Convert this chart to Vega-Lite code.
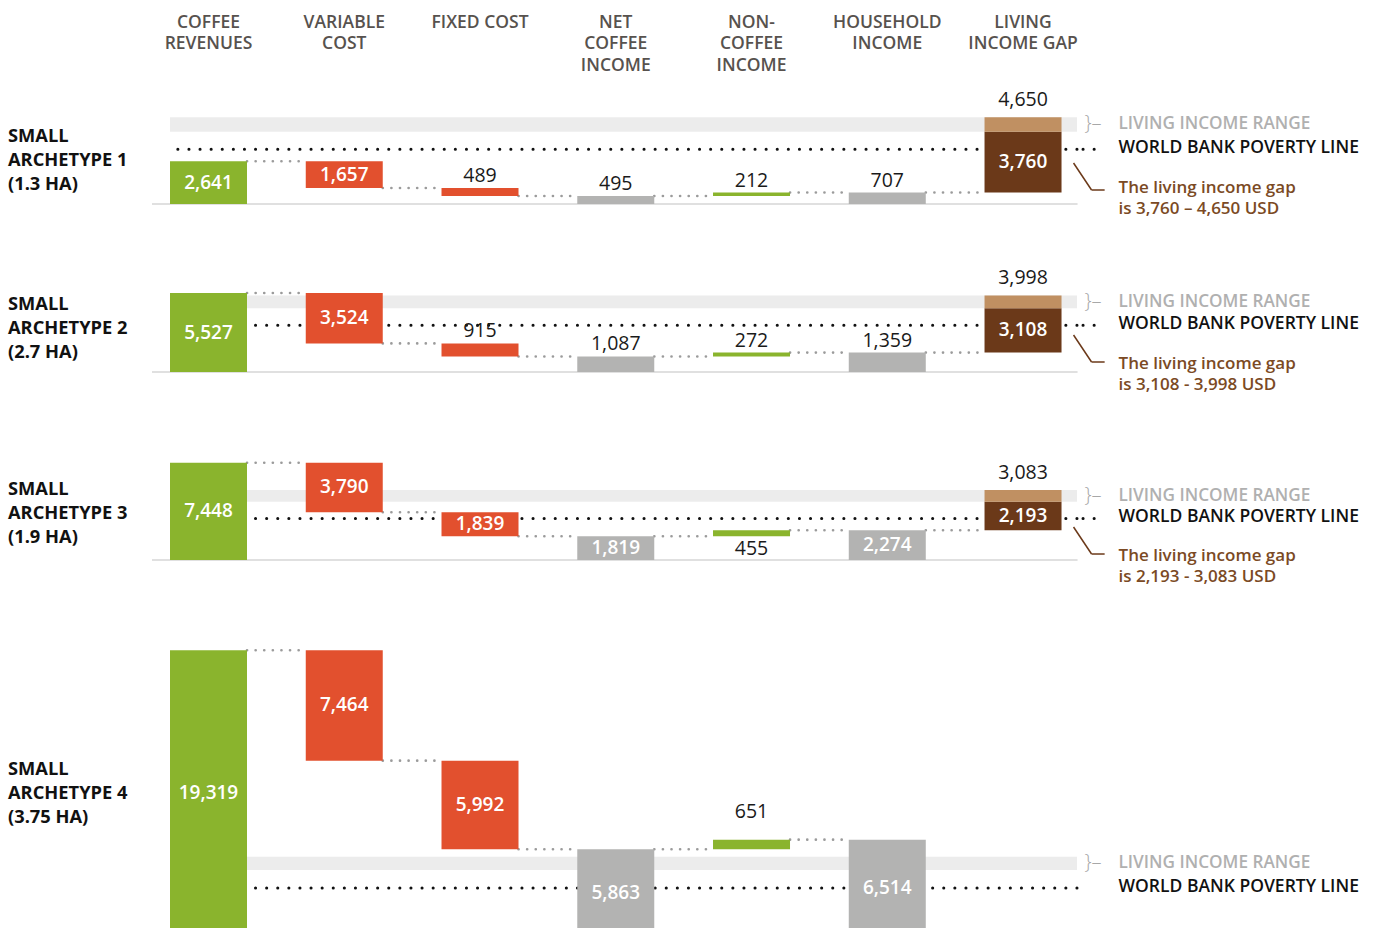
{
  "$schema": "https://vega.github.io/schema/vega-lite/v6.json",
  "background": "white",
  "padding": {"left": 7, "top": 13, "right": 5, "bottom": 0},
  "config": {"view": {"stroke": null}, "font": "Open Sans", "axis": {"disable": true}},
  "spacing": 0,
  "bounds": "flush",
  "resolve": {"scale": {"x": "independent", "y": "independent", "color": "independent"}},
  "datasets": {
    "cols": [
      {"cat": "Coffee revenues", "label": "COFFEE\nREVENUES"},
      {"cat": "Variable cost", "label": "VARIABLE\nCOST"},
      {"cat": "Fixed cost", "label": "FIXED COST"},
      {"cat": "Net coffee income", "label": "NET\nCOFFEE\nINCOME"},
      {"cat": "Non-coffee income", "label": "NON-\nCOFFEE\nINCOME"},
      {"cat": "Household income", "label": "HOUSEHOLD\nINCOME"},
      {"cat": "Living income gap", "label": "LIVING\nINCOME GAP"}
    ],
    "bars": [
      {"p": 1, "cat": "Coffee revenues", "start": 0, "end": 2641, "val": 2641, "kind": "rev"},
      {"p": 1, "cat": "Variable cost", "start": 2641, "end": 984, "val": 1657, "kind": "cost"},
      {"p": 1, "cat": "Fixed cost", "start": 984, "end": 495, "val": 489, "kind": "cost"},
      {"p": 1, "cat": "Net coffee income", "start": 0, "end": 495, "val": 495, "kind": "total"},
      {"p": 1, "cat": "Non-coffee income", "start": 495, "end": 707, "val": 212, "kind": "noncof"},
      {"p": 1, "cat": "Household income", "start": 0, "end": 707, "val": 707, "kind": "total"},
      {"p": 1, "cat": "Living income gap", "start": 707, "end": 4467, "val": 3760, "kind": "gap"},
      {"p": 1, "cat": "Living income gap", "start": 4467, "end": 5357, "val": 4650, "kind": "range"},
      {"p": 2, "cat": "Coffee revenues", "start": 0, "end": 5527, "val": 5527, "kind": "rev"},
      {"p": 2, "cat": "Variable cost", "start": 5527, "end": 2003, "val": 3524, "kind": "cost"},
      {"p": 2, "cat": "Fixed cost", "start": 2003, "end": 1087, "val": 915, "kind": "cost"},
      {"p": 2, "cat": "Net coffee income", "start": 0, "end": 1087, "val": 1087, "kind": "total"},
      {"p": 2, "cat": "Non-coffee income", "start": 1087, "end": 1359, "val": 272, "kind": "noncof"},
      {"p": 2, "cat": "Household income", "start": 0, "end": 1359, "val": 1359, "kind": "total"},
      {"p": 2, "cat": "Living income gap", "start": 1359, "end": 4467, "val": 3108, "kind": "gap"},
      {"p": 2, "cat": "Living income gap", "start": 4467, "end": 5357, "val": 3998, "kind": "range"},
      {"p": 3, "cat": "Coffee revenues", "start": 0, "end": 7448, "val": 7448, "kind": "rev"},
      {"p": 3, "cat": "Variable cost", "start": 7448, "end": 3658, "val": 3790, "kind": "cost"},
      {"p": 3, "cat": "Fixed cost", "start": 3658, "end": 1819, "val": 1839, "kind": "cost"},
      {"p": 3, "cat": "Net coffee income", "start": 0, "end": 1819, "val": 1819, "kind": "total"},
      {"p": 3, "cat": "Non-coffee income", "start": 1819, "end": 2274, "val": 455, "kind": "noncof"},
      {"p": 3, "cat": "Household income", "start": 0, "end": 2274, "val": 2274, "kind": "total"},
      {"p": 3, "cat": "Living income gap", "start": 2274, "end": 4467, "val": 2193, "kind": "gap"},
      {"p": 3, "cat": "Living income gap", "start": 4467, "end": 5357, "val": 3083, "kind": "range"},
      {"p": 4, "cat": "Coffee revenues", "start": 0, "end": 19319, "val": 19319, "kind": "rev"},
      {"p": 4, "cat": "Variable cost", "start": 19319, "end": 11855, "val": 7464, "kind": "cost"},
      {"p": 4, "cat": "Fixed cost", "start": 11855, "end": 5863, "val": 5992, "kind": "cost"},
      {"p": 4, "cat": "Net coffee income", "start": 0, "end": 5863, "val": 5863, "kind": "total"},
      {"p": 4, "cat": "Non-coffee income", "start": 5863, "end": 6514, "val": 651, "kind": "noncof"},
      {"p": 4, "cat": "Household income", "start": 0, "end": 6514, "val": 6514, "kind": "total"}
    ],
    "links": [
      {"p": 1, "from": "Coffee revenues", "to": "Variable cost", "level": 2641},
      {"p": 1, "from": "Variable cost", "to": "Fixed cost", "level": 984},
      {"p": 1, "from": "Fixed cost", "to": "Net coffee income", "level": 495},
      {"p": 1, "from": "Net coffee income", "to": "Non-coffee income", "level": 495},
      {"p": 1, "from": "Non-coffee income", "to": "Household income", "level": 707},
      {"p": 1, "from": "Household income", "to": "Living income gap", "level": 707},
      {"p": 2, "from": "Coffee revenues", "to": "Variable cost", "level": 5527},
      {"p": 2, "from": "Variable cost", "to": "Fixed cost", "level": 2003},
      {"p": 2, "from": "Fixed cost", "to": "Net coffee income", "level": 1087},
      {"p": 2, "from": "Net coffee income", "to": "Non-coffee income", "level": 1087},
      {"p": 2, "from": "Non-coffee income", "to": "Household income", "level": 1359},
      {"p": 2, "from": "Household income", "to": "Living income gap", "level": 1359},
      {"p": 3, "from": "Coffee revenues", "to": "Variable cost", "level": 7448},
      {"p": 3, "from": "Variable cost", "to": "Fixed cost", "level": 3658},
      {"p": 3, "from": "Fixed cost", "to": "Net coffee income", "level": 1819},
      {"p": 3, "from": "Net coffee income", "to": "Non-coffee income", "level": 1819},
      {"p": 3, "from": "Non-coffee income", "to": "Household income", "level": 2274},
      {"p": 3, "from": "Household income", "to": "Living income gap", "level": 2274},
      {"p": 4, "from": "Coffee revenues", "to": "Variable cost", "level": 19319},
      {"p": 4, "from": "Variable cost", "to": "Fixed cost", "level": 11855},
      {"p": 4, "from": "Fixed cost", "to": "Net coffee income", "level": 5863},
      {"p": 4, "from": "Net coffee income", "to": "Non-coffee income", "level": 5863},
      {"p": 4, "from": "Non-coffee income", "to": "Household income", "level": 6514}
    ],
    "refs": [
      {"p": 1, "name": "SMALL\nARCHETYPE 1\n(1.3 HA)", "lo": 4467, "hi": 5357, "pov": 3377, "note": "The living income gap\nis 3,760 – 4,650 USD"},
      {"p": 2, "name": "SMALL\nARCHETYPE 2\n(2.7 HA)", "lo": 4467, "hi": 5357, "pov": 3268, "note": "The living income gap\nis 3,108 - 3,998 USD"},
      {"p": 3, "name": "SMALL\nARCHETYPE 3\n(1.9 HA)", "lo": 4467, "hi": 5357, "pov": 3185, "note": "The living income gap\nis 2,193 - 3,083  USD"},
      {"p": 4, "name": "SMALL\nARCHETYPE 4\n(3.75 HA)", "lo": 4467, "hi": 5357, "pov": 3245, "note": ""}
    ]
  },
  "vconcat": [
    {
      "width": 907, "height": 1,
      "data": {"name": "cols"},
      "mark": {"type": "text", "align": "center", "baseline": "top", "lineBreak": "\n", "fontSize": 17.5, "fontWeight": 600, "lineHeight": 21.5, "color": "#57524e"},
      "encoding": {
        "x": {"field": "cat", "type": "nominal", "axis": null, "scale": {"type": "band", "domain": ["Coffee revenues", "Variable cost", "Fixed cost", "Net coffee income", "Non-coffee income", "Household income", "Living income gap"], "paddingInner": 0.4328, "paddingOuter": 0.057, "align": 0}},
        "text": {"field": "label"}
      }
    },
    {
      "width": 907, "height": 190,
      "layer": [
        {"data": {"name": "refs"}, "transform": [{"filter": "datum.p==1"}], "mark": {"type": "rect", "color": "#ececec"}, "encoding": {"y": {"field": "lo", "type": "quantitative", "axis": null, "scale": {"domain": [0, 11728], "nice": false}}, "y2": {"field": "hi"}}},
        {"data": {"name": "refs"}, "transform": [{"filter": "datum.p==1"}], "mark": {"type": "rule", "color": "#d6d6d6", "strokeWidth": 1.5}, "encoding": {"x": {"datum": "Coffee revenues", "type": "nominal", "bandPosition": -0.234}, "x2": {"datum": "Living income gap", "bandPosition": 1.208}, "y": {"datum": 0, "type": "quantitative"}}},
        {"data": {"name": "refs"}, "transform": [{"filter": "datum.p==1"}], "mark": {"type": "rule", "color": "#111111", "strokeWidth": 3, "strokeDash": [0.1, 11], "strokeCap": "round"}, "encoding": {"y": {"field": "pov", "type": "quantitative"}}},
        {"data": {"name": "refs"}, "transform": [{"filter": "datum.p==1"}], "mark": {"type": "rule", "color": "#111111", "strokeWidth": 3, "strokeDash": [0.1, 11], "strokeCap": "round"}, "encoding": {"x": {"datum": "Living income gap", "type": "nominal", "bandPosition": 1.279}, "x2": {"datum": "Living income gap", "bandPosition": 1.5}, "y": {"field": "pov", "type": "quantitative"}}},
        {"data": {"name": "links"}, "transform": [{"filter": "datum.p==1"}], "mark": {"type": "rule", "color": "#9b9b9b", "strokeWidth": 2.6, "strokeDash": [0.1, 8.5], "strokeCap": "round"}, "encoding": {"x": {"field": "from", "type": "nominal", "axis": null, "bandPosition": 1, "scale": {"type": "band", "domain": ["Coffee revenues", "Variable cost", "Fixed cost", "Net coffee income", "Non-coffee income", "Household income", "Living income gap"], "paddingInner": 0.4328, "paddingOuter": 0.057, "align": 0}}, "x2": {"field": "to", "bandPosition": 0}, "y": {"field": "level", "type": "quantitative"}}},
        {"data": {"name": "bars"}, "transform": [{"filter": "datum.p==1"}], "mark": {"type": "bar"}, "encoding": {"x": {"field": "cat", "type": "nominal", "axis": null}, "y": {"field": "start", "type": "quantitative"}, "y2": {"field": "end"}, "color": {"field": "kind", "type": "nominal", "legend": null, "scale": {"domain": ["rev", "cost", "total", "noncof", "gap", "range"], "range": ["#8ab42d", "#e2502e", "#b3b3b2", "#8ab42d", "#6b3919", "#c09062"]}}}},
        {"data": {"name": "bars"}, "transform": [{"filter": "datum.p==1 && datum.kind!='range' && datum.val>=1500"}, {"calculate": "(datum.start+datum.end)/2", "as": "mid"}], "mark": {"type": "text", "color": "#ffffff", "fontSize": 19, "fontWeight": 600, "baseline": "middle"}, "encoding": {"x": {"field": "cat", "type": "nominal"}, "y": {"field": "mid", "type": "quantitative"}, "text": {"field": "val", "type": "quantitative", "format": ","}}},
        {"data": {"name": "bars"}, "transform": [{"filter": "datum.p==1 && datum.kind!='range' && datum.val<1500"}, {"calculate": "max(datum.start,datum.end)", "as": "top"}], "mark": {"type": "text", "color": "#1a1a1a", "fontSize": 19.5, "baseline": "bottom", "dy": -2}, "encoding": {"x": {"field": "cat", "type": "nominal"}, "y": {"field": "top", "type": "quantitative"}, "text": {"field": "val", "type": "quantitative", "format": ","}}},
        {"data": {"name": "bars"}, "transform": [{"filter": "datum.p==1 && datum.kind=='range'"}], "mark": {"type": "text", "color": "#1a1a1a", "fontSize": 19.5, "baseline": "bottom", "dy": -7}, "encoding": {"x": {"field": "cat", "type": "nominal"}, "y": {"field": "end", "type": "quantitative"}, "text": {"field": "val", "type": "quantitative", "format": ","}}},
        {"data": {"name": "refs"}, "transform": [{"filter": "datum.p==1"}], "mark": {"type": "text", "align": "left", "baseline": "top", "lineBreak": "\n", "fontSize": 18.3, "fontWeight": "bold", "lineHeight": 24, "color": "#111111", "dx": -200.5}, "encoding": {"x": {"datum": "Coffee revenues", "type": "nominal"}, "y": {"datum": 4691, "type": "quantitative"}, "text": {"field": "name"}}},
        {"data": {"name": "refs"}, "transform": [{"filter": "datum.p==1"}, {"calculate": "(datum.lo+datum.hi)/2", "as": "mid"}], "mark": {"type": "text", "align": "left", "baseline": "middle", "fontSize": 17.2, "fontWeight": 600, "color": "#b0b0b0", "dx": 95.5}, "encoding": {"x": {"datum": "Living income gap", "type": "nominal"}, "y": {"field": "mid", "type": "quantitative"}, "text": {"value": "LIVING INCOME RANGE"}}},
        {"data": {"name": "refs"}, "transform": [{"filter": "datum.p==1"}, {"calculate": "(datum.lo+datum.hi)/2", "as": "mid"}], "mark": {"type": "text", "align": "left", "baseline": "middle", "fontSize": 20, "fontWeight": 300, "color": "#a8a8a8", "dx": 61.5}, "encoding": {"x": {"datum": "Living income gap", "type": "nominal"}, "y": {"field": "mid", "type": "quantitative"}, "text": {"value": "}–"}}},
        {"data": {"name": "refs"}, "transform": [{"filter": "datum.p==1"}], "mark": {"type": "text", "align": "left", "baseline": "middle", "fontSize": 17.5, "fontWeight": 600, "color": "#111111", "dx": 95.5, "dy": -1}, "encoding": {"x": {"datum": "Living income gap", "type": "nominal"}, "y": {"field": "pov", "type": "quantitative"}, "text": {"value": "WORLD BANK POVERTY LINE"}}},
        {"data": {"name": "refs"}, "transform": [{"filter": "datum.p==1"}], "mark": {"type": "text", "align": "left", "baseline": "top", "lineBreak": "\n", "fontSize": 17, "fontWeight": 600, "lineHeight": 21, "color": "#7b4a24", "dx": 95.5}, "encoding": {"x": {"datum": "Living income gap", "type": "nominal"}, "y": {"datum": 1451, "type": "quantitative"}, "text": {"field": "note"}}},
        {"data": {"name": "refs"}, "transform": [{"filter": "datum.p==1"}], "mark": {"type": "rule", "color": "#6b3919", "strokeWidth": 1.5}, "encoding": {"x": {"datum": "Living income gap", "type": "nominal", "bandPosition": 1.156}, "x2": {"datum": "Living income gap", "bandPosition": 1.39}, "y": {"datum": 2531, "type": "quantitative"}, "y2": {"datum": 864}}},
        {"data": {"name": "refs"}, "transform": [{"filter": "datum.p==1"}], "mark": {"type": "rule", "color": "#6b3919", "strokeWidth": 1.5}, "encoding": {"x": {"datum": "Living income gap", "type": "nominal", "bandPosition": 1.39}, "x2": {"datum": "Living income gap", "bandPosition": 1.56}, "y": {"datum": 864, "type": "quantitative"}, "y2": {"datum": 864}}}
      ]
    },
    {
      "width": 907, "height": 168,
      "layer": [
        {"data": {"name": "refs"}, "transform": [{"filter": "datum.p==2"}], "mark": {"type": "rect", "color": "#ececec"}, "encoding": {"y": {"field": "lo", "type": "quantitative", "axis": null, "scale": {"domain": [0, 11757], "nice": false}}, "y2": {"field": "hi"}}},
        {"data": {"name": "refs"}, "transform": [{"filter": "datum.p==2"}], "mark": {"type": "rule", "color": "#d6d6d6", "strokeWidth": 1.5}, "encoding": {"x": {"datum": "Coffee revenues", "type": "nominal", "bandPosition": -0.234}, "x2": {"datum": "Living income gap", "bandPosition": 1.208}, "y": {"datum": 0, "type": "quantitative"}}},
        {"data": {"name": "refs"}, "transform": [{"filter": "datum.p==2"}], "mark": {"type": "rule", "color": "#111111", "strokeWidth": 3, "strokeDash": [0.1, 11], "strokeCap": "round"}, "encoding": {"y": {"field": "pov", "type": "quantitative"}}},
        {"data": {"name": "refs"}, "transform": [{"filter": "datum.p==2"}], "mark": {"type": "rule", "color": "#111111", "strokeWidth": 3, "strokeDash": [0.1, 11], "strokeCap": "round"}, "encoding": {"x": {"datum": "Living income gap", "type": "nominal", "bandPosition": 1.279}, "x2": {"datum": "Living income gap", "bandPosition": 1.5}, "y": {"field": "pov", "type": "quantitative"}}},
        {"data": {"name": "links"}, "transform": [{"filter": "datum.p==2"}], "mark": {"type": "rule", "color": "#9b9b9b", "strokeWidth": 2.6, "strokeDash": [0.1, 8.5], "strokeCap": "round"}, "encoding": {"x": {"field": "from", "type": "nominal", "axis": null, "bandPosition": 1, "scale": {"type": "band", "domain": ["Coffee revenues", "Variable cost", "Fixed cost", "Net coffee income", "Non-coffee income", "Household income", "Living income gap"], "paddingInner": 0.4328, "paddingOuter": 0.057, "align": 0}}, "x2": {"field": "to", "bandPosition": 0}, "y": {"field": "level", "type": "quantitative"}}},
        {"data": {"name": "bars"}, "transform": [{"filter": "datum.p==2"}], "mark": {"type": "bar"}, "encoding": {"x": {"field": "cat", "type": "nominal", "axis": null}, "y": {"field": "start", "type": "quantitative"}, "y2": {"field": "end"}, "color": {"field": "kind", "type": "nominal", "legend": null, "scale": {"domain": ["rev", "cost", "total", "noncof", "gap", "range"], "range": ["#8ab42d", "#e2502e", "#b3b3b2", "#8ab42d", "#6b3919", "#c09062"]}}}},
        {"data": {"name": "bars"}, "transform": [{"filter": "datum.p==2 && datum.kind!='range' && datum.val>=1500"}, {"calculate": "(datum.start+datum.end)/2", "as": "mid"}], "mark": {"type": "text", "color": "#ffffff", "fontSize": 19, "fontWeight": 600, "baseline": "middle"}, "encoding": {"x": {"field": "cat", "type": "nominal"}, "y": {"field": "mid", "type": "quantitative"}, "text": {"field": "val", "type": "quantitative", "format": ","}}},
        {"data": {"name": "bars"}, "transform": [{"filter": "datum.p==2 && datum.kind!='range' && datum.val<1500"}, {"calculate": "max(datum.start,datum.end)", "as": "top"}], "mark": {"type": "text", "color": "#1a1a1a", "fontSize": 19.5, "baseline": "bottom", "dy": -2}, "encoding": {"x": {"field": "cat", "type": "nominal"}, "y": {"field": "top", "type": "quantitative"}, "text": {"field": "val", "type": "quantitative", "format": ","}}},
        {"data": {"name": "bars"}, "transform": [{"filter": "datum.p==2 && datum.kind=='range'"}], "mark": {"type": "text", "color": "#1a1a1a", "fontSize": 19.5, "baseline": "bottom", "dy": -7}, "encoding": {"x": {"field": "cat", "type": "nominal"}, "y": {"field": "end", "type": "quantitative"}, "text": {"field": "val", "type": "quantitative", "format": ","}}},
        {"data": {"name": "refs"}, "transform": [{"filter": "datum.p==2"}], "mark": {"type": "text", "align": "left", "baseline": "top", "lineBreak": "\n", "fontSize": 18.3, "fontWeight": "bold", "lineHeight": 24, "color": "#111111", "dx": -200.5}, "encoding": {"x": {"datum": "Coffee revenues", "type": "nominal"}, "y": {"datum": 5318, "type": "quantitative"}, "text": {"field": "name"}}},
        {"data": {"name": "refs"}, "transform": [{"filter": "datum.p==2"}, {"calculate": "(datum.lo+datum.hi)/2", "as": "mid"}], "mark": {"type": "text", "align": "left", "baseline": "middle", "fontSize": 17.2, "fontWeight": 600, "color": "#b0b0b0", "dx": 95.5}, "encoding": {"x": {"datum": "Living income gap", "type": "nominal"}, "y": {"field": "mid", "type": "quantitative"}, "text": {"value": "LIVING INCOME RANGE"}}},
        {"data": {"name": "refs"}, "transform": [{"filter": "datum.p==2"}, {"calculate": "(datum.lo+datum.hi)/2", "as": "mid"}], "mark": {"type": "text", "align": "left", "baseline": "middle", "fontSize": 20, "fontWeight": 300, "color": "#a8a8a8", "dx": 61.5}, "encoding": {"x": {"datum": "Living income gap", "type": "nominal"}, "y": {"field": "mid", "type": "quantitative"}, "text": {"value": "}–"}}},
        {"data": {"name": "refs"}, "transform": [{"filter": "datum.p==2"}], "mark": {"type": "text", "align": "left", "baseline": "middle", "fontSize": 17.5, "fontWeight": 600, "color": "#111111", "dx": 95.5, "dy": -1}, "encoding": {"x": {"datum": "Living income gap", "type": "nominal"}, "y": {"field": "pov", "type": "quantitative"}, "text": {"value": "WORLD BANK POVERTY LINE"}}},
        {"data": {"name": "refs"}, "transform": [{"filter": "datum.p==2"}], "mark": {"type": "text", "align": "left", "baseline": "top", "lineBreak": "\n", "fontSize": 17, "fontWeight": 600, "lineHeight": 21, "color": "#7b4a24", "dx": 95.5}, "encoding": {"x": {"datum": "Living income gap", "type": "nominal"}, "y": {"datum": 1085, "type": "quantitative"}, "text": {"field": "note"}}},
        {"data": {"name": "refs"}, "transform": [{"filter": "datum.p==2"}], "mark": {"type": "rule", "color": "#6b3919", "strokeWidth": 1.5}, "encoding": {"x": {"datum": "Living income gap", "type": "nominal", "bandPosition": 1.156}, "x2": {"datum": "Living income gap", "bandPosition": 1.39}, "y": {"datum": 2589, "type": "quantitative"}, "y2": {"datum": 700}}},
        {"data": {"name": "refs"}, "transform": [{"filter": "datum.p==2"}], "mark": {"type": "rule", "color": "#6b3919", "strokeWidth": 1.5}, "encoding": {"x": {"datum": "Living income gap", "type": "nominal", "bandPosition": 1.39}, "x2": {"datum": "Living income gap", "bandPosition": 1.56}, "y": {"datum": 700, "type": "quantitative"}, "y2": {"datum": 700}}}
      ]
    },
    {
      "width": 907, "height": 188,
      "layer": [
        {"data": {"name": "refs"}, "transform": [{"filter": "datum.p==3"}], "mark": {"type": "rect", "color": "#ececec"}, "encoding": {"y": {"field": "lo", "type": "quantitative", "axis": null, "scale": {"domain": [0, 14395], "nice": false}}, "y2": {"field": "hi"}}},
        {"data": {"name": "refs"}, "transform": [{"filter": "datum.p==3"}], "mark": {"type": "rule", "color": "#d6d6d6", "strokeWidth": 1.5}, "encoding": {"x": {"datum": "Coffee revenues", "type": "nominal", "bandPosition": -0.234}, "x2": {"datum": "Living income gap", "bandPosition": 1.208}, "y": {"datum": 0, "type": "quantitative"}}},
        {"data": {"name": "refs"}, "transform": [{"filter": "datum.p==3"}], "mark": {"type": "rule", "color": "#111111", "strokeWidth": 3, "strokeDash": [0.1, 11], "strokeCap": "round"}, "encoding": {"y": {"field": "pov", "type": "quantitative"}}},
        {"data": {"name": "refs"}, "transform": [{"filter": "datum.p==3"}], "mark": {"type": "rule", "color": "#111111", "strokeWidth": 3, "strokeDash": [0.1, 11], "strokeCap": "round"}, "encoding": {"x": {"datum": "Living income gap", "type": "nominal", "bandPosition": 1.279}, "x2": {"datum": "Living income gap", "bandPosition": 1.5}, "y": {"field": "pov", "type": "quantitative"}}},
        {"data": {"name": "links"}, "transform": [{"filter": "datum.p==3"}], "mark": {"type": "rule", "color": "#9b9b9b", "strokeWidth": 2.6, "strokeDash": [0.1, 8.5], "strokeCap": "round"}, "encoding": {"x": {"field": "from", "type": "nominal", "axis": null, "bandPosition": 1, "scale": {"type": "band", "domain": ["Coffee revenues", "Variable cost", "Fixed cost", "Net coffee income", "Non-coffee income", "Household income", "Living income gap"], "paddingInner": 0.4328, "paddingOuter": 0.057, "align": 0}}, "x2": {"field": "to", "bandPosition": 0}, "y": {"field": "level", "type": "quantitative"}}},
        {"data": {"name": "bars"}, "transform": [{"filter": "datum.p==3"}], "mark": {"type": "bar"}, "encoding": {"x": {"field": "cat", "type": "nominal", "axis": null}, "y": {"field": "start", "type": "quantitative"}, "y2": {"field": "end"}, "color": {"field": "kind", "type": "nominal", "legend": null, "scale": {"domain": ["rev", "cost", "total", "noncof", "gap", "range"], "range": ["#8ab42d", "#e2502e", "#b3b3b2", "#8ab42d", "#6b3919", "#c09062"]}}}},
        {"data": {"name": "bars"}, "transform": [{"filter": "datum.p==3 && datum.kind!='range' && datum.val>=1500"}, {"calculate": "(datum.start+datum.end)/2", "as": "mid"}], "mark": {"type": "text", "color": "#ffffff", "fontSize": 19, "fontWeight": 600, "baseline": "middle"}, "encoding": {"x": {"field": "cat", "type": "nominal"}, "y": {"field": "mid", "type": "quantitative"}, "text": {"field": "val", "type": "quantitative", "format": ","}}},
        {"data": {"name": "bars"}, "transform": [{"filter": "datum.p==3 && datum.kind!='range' && datum.val<1500"}, {"calculate": "min(datum.start,datum.end)", "as": "bot"}], "mark": {"type": "text", "color": "#1a1a1a", "fontSize": 19.5, "baseline": "top", "dy": 4}, "encoding": {"x": {"field": "cat", "type": "nominal"}, "y": {"field": "bot", "type": "quantitative"}, "text": {"field": "val", "type": "quantitative", "format": ","}}},
        {"data": {"name": "bars"}, "transform": [{"filter": "datum.p==3 && datum.kind=='range'"}], "mark": {"type": "text", "color": "#1a1a1a", "fontSize": 19.5, "baseline": "bottom", "dy": -7}, "encoding": {"x": {"field": "cat", "type": "nominal"}, "y": {"field": "end", "type": "quantitative"}, "text": {"field": "val", "type": "quantitative", "format": ","}}},
        {"data": {"name": "refs"}, "transform": [{"filter": "datum.p==3"}], "mark": {"type": "text", "align": "left", "baseline": "top", "lineBreak": "\n", "fontSize": 18.3, "fontWeight": "bold", "lineHeight": 24, "color": "#111111", "dx": -200.5}, "encoding": {"x": {"datum": "Coffee revenues", "type": "nominal"}, "y": {"datum": 6049, "type": "quantitative"}, "text": {"field": "name"}}},
        {"data": {"name": "refs"}, "transform": [{"filter": "datum.p==3"}, {"calculate": "(datum.lo+datum.hi)/2", "as": "mid"}], "mark": {"type": "text", "align": "left", "baseline": "middle", "fontSize": 17.2, "fontWeight": 600, "color": "#b0b0b0", "dx": 95.5}, "encoding": {"x": {"datum": "Living income gap", "type": "nominal"}, "y": {"field": "mid", "type": "quantitative"}, "text": {"value": "LIVING INCOME RANGE"}}},
        {"data": {"name": "refs"}, "transform": [{"filter": "datum.p==3"}, {"calculate": "(datum.lo+datum.hi)/2", "as": "mid"}], "mark": {"type": "text", "align": "left", "baseline": "middle", "fontSize": 20, "fontWeight": 300, "color": "#a8a8a8", "dx": 61.5}, "encoding": {"x": {"datum": "Living income gap", "type": "nominal"}, "y": {"field": "mid", "type": "quantitative"}, "text": {"value": "}–"}}},
        {"data": {"name": "refs"}, "transform": [{"filter": "datum.p==3"}], "mark": {"type": "text", "align": "left", "baseline": "middle", "fontSize": 17.5, "fontWeight": 600, "color": "#111111", "dx": 95.5, "dy": -1}, "encoding": {"x": {"datum": "Living income gap", "type": "nominal"}, "y": {"field": "pov", "type": "quantitative"}, "text": {"value": "WORLD BANK POVERTY LINE"}}},
        {"data": {"name": "refs"}, "transform": [{"filter": "datum.p==3"}], "mark": {"type": "text", "align": "left", "baseline": "top", "lineBreak": "\n", "fontSize": 17, "fontWeight": 600, "lineHeight": 21, "color": "#7b4a24", "dx": 95.5}, "encoding": {"x": {"datum": "Living income gap", "type": "nominal"}, "y": {"datum": 881, "type": "quantitative"}, "text": {"field": "note"}}},
        {"data": {"name": "refs"}, "transform": [{"filter": "datum.p==3"}], "mark": {"type": "rule", "color": "#6b3919", "strokeWidth": 1.5}, "encoding": {"x": {"datum": "Living income gap", "type": "nominal", "bandPosition": 1.156}, "x2": {"datum": "Living income gap", "bandPosition": 1.39}, "y": {"datum": 2527, "type": "quantitative"}, "y2": {"datum": 459}}},
        {"data": {"name": "refs"}, "transform": [{"filter": "datum.p==3"}], "mark": {"type": "rule", "color": "#6b3919", "strokeWidth": 1.5}, "encoding": {"x": {"datum": "Living income gap", "type": "nominal", "bandPosition": 1.39}, "x2": {"datum": "Living income gap", "bandPosition": 1.56}, "y": {"datum": 459, "type": "quantitative"}, "y2": {"datum": 459}}}
      ]
    },
    {
      "width": 907, "height": 376,
      "layer": [
        {"data": {"name": "refs"}, "transform": [{"filter": "datum.p==4"}], "mark": {"type": "rect", "color": "#ececec"}, "encoding": {"y": {"field": "lo", "type": "quantitative", "axis": null, "scale": {"domain": [0, 25422], "nice": false}}, "y2": {"field": "hi"}}},
        {"data": {"name": "refs"}, "transform": [{"filter": "datum.p==4"}], "mark": {"type": "rule", "color": "#d6d6d6", "strokeWidth": 1.5}, "encoding": {"x": {"datum": "Coffee revenues", "type": "nominal", "bandPosition": -0.234}, "x2": {"datum": "Living income gap", "bandPosition": 1.208}, "y": {"datum": 0, "type": "quantitative"}}},
        {"data": {"name": "refs"}, "transform": [{"filter": "datum.p==4"}], "mark": {"type": "rule", "color": "#111111", "strokeWidth": 3, "strokeDash": [0.1, 11], "strokeCap": "round"}, "encoding": {"y": {"field": "pov", "type": "quantitative"}}},
        {"data": {"name": "links"}, "transform": [{"filter": "datum.p==4"}], "mark": {"type": "rule", "color": "#9b9b9b", "strokeWidth": 2.6, "strokeDash": [0.1, 8.5], "strokeCap": "round"}, "encoding": {"x": {"field": "from", "type": "nominal", "axis": null, "bandPosition": 1, "scale": {"type": "band", "domain": ["Coffee revenues", "Variable cost", "Fixed cost", "Net coffee income", "Non-coffee income", "Household income", "Living income gap"], "paddingInner": 0.4328, "paddingOuter": 0.057, "align": 0}}, "x2": {"field": "to", "bandPosition": 0}, "y": {"field": "level", "type": "quantitative"}}},
        {"data": {"name": "bars"}, "transform": [{"filter": "datum.p==4"}], "mark": {"type": "bar"}, "encoding": {"x": {"field": "cat", "type": "nominal", "axis": null}, "y": {"field": "start", "type": "quantitative"}, "y2": {"field": "end"}, "color": {"field": "kind", "type": "nominal", "legend": null, "scale": {"domain": ["rev", "cost", "total", "noncof", "gap", "range"], "range": ["#8ab42d", "#e2502e", "#b3b3b2", "#8ab42d", "#6b3919", "#c09062"]}}}},
        {"data": {"name": "bars"}, "transform": [{"filter": "datum.p==4 && datum.kind!='range' && datum.val>=1500"}, {"calculate": "(datum.start+datum.end)/2", "as": "mid"}], "mark": {"type": "text", "color": "#ffffff", "fontSize": 19, "fontWeight": 600, "baseline": "middle"}, "encoding": {"x": {"field": "cat", "type": "nominal"}, "y": {"field": "mid", "type": "quantitative"}, "text": {"field": "val", "type": "quantitative", "format": ","}}},
        {"data": {"name": "bars"}, "transform": [{"filter": "datum.p==4 && datum.kind!='range' && datum.val<1500"}, {"calculate": "max(datum.start,datum.end)", "as": "top"}], "mark": {"type": "text", "color": "#1a1a1a", "fontSize": 19.5, "baseline": "bottom", "dy": -18}, "encoding": {"x": {"field": "cat", "type": "nominal"}, "y": {"field": "top", "type": "quantitative"}, "text": {"field": "val", "type": "quantitative", "format": ","}}},
        {"data": {"name": "refs"}, "transform": [{"filter": "datum.p==4"}], "mark": {"type": "text", "align": "left", "baseline": "top", "lineBreak": "\n", "fontSize": 18.3, "fontWeight": "bold", "lineHeight": 24, "color": "#111111", "dx": -200.5}, "encoding": {"x": {"datum": "Coffee revenues", "type": "nominal"}, "y": {"datum": 11832, "type": "quantitative"}, "text": {"field": "name"}}},
        {"data": {"name": "refs"}, "transform": [{"filter": "datum.p==4"}, {"calculate": "(datum.lo+datum.hi)/2", "as": "mid"}], "mark": {"type": "text", "align": "left", "baseline": "middle", "fontSize": 17.2, "fontWeight": 600, "color": "#b0b0b0", "dx": 95.5}, "encoding": {"x": {"datum": "Living income gap", "type": "nominal"}, "y": {"field": "mid", "type": "quantitative"}, "text": {"value": "LIVING INCOME RANGE"}}},
        {"data": {"name": "refs"}, "transform": [{"filter": "datum.p==4"}, {"calculate": "(datum.lo+datum.hi)/2", "as": "mid"}], "mark": {"type": "text", "align": "left", "baseline": "middle", "fontSize": 20, "fontWeight": 300, "color": "#a8a8a8", "dx": 61.5}, "encoding": {"x": {"datum": "Living income gap", "type": "nominal"}, "y": {"field": "mid", "type": "quantitative"}, "text": {"value": "}–"}}},
        {"data": {"name": "refs"}, "transform": [{"filter": "datum.p==4"}], "mark": {"type": "text", "align": "left", "baseline": "middle", "fontSize": 17.5, "fontWeight": 600, "color": "#111111", "dx": 95.5, "dy": -1}, "encoding": {"x": {"datum": "Living income gap", "type": "nominal"}, "y": {"field": "pov", "type": "quantitative"}, "text": {"value": "WORLD BANK POVERTY LINE"}}}
      ]
    }
  ]
}
